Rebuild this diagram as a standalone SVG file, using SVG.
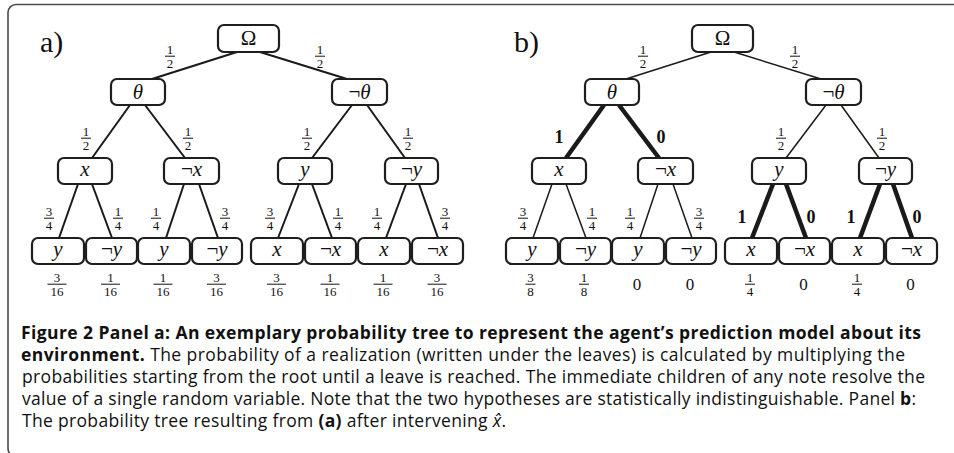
<svg xmlns="http://www.w3.org/2000/svg" width="954" height="453" viewBox="0 0 954 453">
<style>
.frame{fill:none;stroke:#4a4a4a;stroke-width:1.6}
.box{fill:#fff;stroke:#1e1e1e;stroke-width:2.2}
.nt{font-family:"Liberation Serif",serif;font-size:21px;font-style:italic;fill:#111;text-anchor:middle}
.up{font-style:normal}
.e{stroke:#1a1a1a;stroke-width:2;fill:none}
.eb{stroke:#1a1a1a;stroke-width:1.5;fill:none}
.ek{stroke:#1a1a1a;stroke-width:4.5;fill:none}
.fr{font-family:"Liberation Serif",serif;font-size:13px;fill:#111;text-anchor:middle}
.bar{stroke:#111;stroke-width:1}
.zero{font-family:"Liberation Serif",serif;font-size:17px;fill:#111;text-anchor:middle}
.bd{font-family:"Liberation Serif",serif;font-size:18px;font-weight:bold;fill:#111;text-anchor:middle}
.pl{font-family:"Liberation Serif",serif;font-size:30px;fill:#111}
.cap{font-family:"Open Sans","Noto Sans",sans-serif;font-size:17.5px;fill:#111}
.b{font-weight:bold}
</style>
<rect class="frame" x="8" y="4.5" width="990" height="452" rx="8"/>

<!-- ===== Panel a ===== -->
<g id="connectors-a">
<line class="e" x1="237" y1="52" x2="152" y2="79"/>
<line class="e" x1="260" y1="52" x2="347" y2="79"/>
<line class="e" x1="130" y1="105" x2="92" y2="158"/>
<line class="e" x1="145" y1="105" x2="185" y2="158"/>
<line class="e" x1="352" y1="105" x2="312" y2="158"/>
<line class="e" x1="367" y1="105" x2="405" y2="158"/>
<line class="e" x1="78" y1="184" x2="59" y2="238"/>
<line class="e" x1="92" y1="184" x2="112" y2="238"/>
<line class="e" x1="184" y1="184" x2="166" y2="238"/>
<line class="e" x1="199" y1="184" x2="218" y2="238"/>
<line class="e" x1="299" y1="184" x2="278" y2="238"/>
<line class="e" x1="312" y1="184" x2="332" y2="238"/>
<line class="e" x1="406" y1="184" x2="386" y2="238"/>
<line class="e" x1="419" y1="184" x2="438" y2="238"/>
</g>
<text class="pl" x="40" y="52">a)</text>
<g id="a-root"><rect class="box" x="218" y="25" width="61" height="27" rx="6"/><text class="nt up" x="248.5" y="45">Ω</text></g>
<g id="a-theta"><rect class="box" x="111" y="79" width="54" height="26" rx="6"/><text class="nt" x="138" y="98.5">θ</text></g>
<g id="a-ntheta"><rect class="box" x="332" y="79" width="55" height="26" rx="6"/><text class="nt" x="359.5" y="98.5"><tspan class="up">¬</tspan>θ</text></g>
<g id="a-x"><rect class="box" x="58" y="158" width="54" height="26" rx="6"/><text class="nt" x="85" y="176">x</text></g>
<g id="a-nx"><rect class="box" x="164" y="158" width="55" height="26" rx="6"/><text class="nt" x="191.5" y="176"><tspan class="up">¬</tspan>x</text></g>
<g id="a-y"><rect class="box" x="278" y="158" width="54" height="26" rx="6"/><text class="nt" x="305" y="176">y</text></g>
<g id="a-ny"><rect class="box" x="385" y="158" width="53" height="26" rx="6"/><text class="nt" x="411.5" y="176"><tspan class="up">¬</tspan>y</text></g>
<g id="a-l1"><rect class="box" x="32" y="238" width="52" height="26" rx="6"/><text class="nt" x="58" y="256">y</text></g>
<g id="a-l2"><rect class="box" x="86" y="238" width="51" height="26" rx="6"/><text class="nt" x="111.5" y="256"><tspan class="up">¬</tspan>y</text></g>
<g id="a-l3"><rect class="box" x="138" y="238" width="52" height="26" rx="6"/><text class="nt" x="164" y="256">y</text></g>
<g id="a-l4"><rect class="box" x="192" y="238" width="50" height="26" rx="6"/><text class="nt" x="217" y="256"><tspan class="up">¬</tspan>y</text></g>
<g id="a-l5"><rect class="box" x="251" y="238" width="52" height="26" rx="6"/><text class="nt" x="277" y="256">x</text></g>
<g id="a-l6"><rect class="box" x="305" y="238" width="51" height="26" rx="6"/><text class="nt" x="330.5" y="256"><tspan class="up">¬</tspan>x</text></g>
<g id="a-l7"><rect class="box" x="358" y="238" width="52" height="26" rx="6"/><text class="nt" x="384" y="256">x</text></g>
<g id="a-l8"><rect class="box" x="412" y="238" width="51" height="26" rx="6"/><text class="nt" x="437.5" y="256"><tspan class="up">¬</tspan>x</text></g>
<g id="a-labels">
<text class="fr" x="170" y="53.5">1</text><line class="bar" x1="165" y1="56.2" x2="175" y2="56.2"/><text class="fr" x="170" y="68">2</text>
<text class="fr" x="320" y="53.5">1</text><line class="bar" x1="315" y1="56.2" x2="325" y2="56.2"/><text class="fr" x="320" y="68">2</text>
<text class="fr" x="86" y="135.5">1</text><line class="bar" x1="81" y1="138.2" x2="91" y2="138.2"/><text class="fr" x="86" y="150">2</text>
<text class="fr" x="188" y="135.5">1</text><line class="bar" x1="183" y1="138.2" x2="193" y2="138.2"/><text class="fr" x="188" y="150">2</text>
<text class="fr" x="307" y="135.5">1</text><line class="bar" x1="302" y1="138.2" x2="312" y2="138.2"/><text class="fr" x="307" y="150">2</text>
<text class="fr" x="408" y="135.5">1</text><line class="bar" x1="403" y1="138.2" x2="413" y2="138.2"/><text class="fr" x="408" y="150">2</text>
<text class="fr" x="49" y="215.5">3</text><line class="bar" x1="44" y1="218.2" x2="54" y2="218.2"/><text class="fr" x="49" y="230">4</text>
<text class="fr" x="118" y="215.5">1</text><line class="bar" x1="113" y1="218.2" x2="123" y2="218.2"/><text class="fr" x="118" y="230">4</text>
<text class="fr" x="156" y="215.5">1</text><line class="bar" x1="151" y1="218.2" x2="161" y2="218.2"/><text class="fr" x="156" y="230">4</text>
<text class="fr" x="225" y="215.5">3</text><line class="bar" x1="220" y1="218.2" x2="230" y2="218.2"/><text class="fr" x="225" y="230">4</text>
<text class="fr" x="270" y="215.5">3</text><line class="bar" x1="265" y1="218.2" x2="275" y2="218.2"/><text class="fr" x="270" y="230">4</text>
<text class="fr" x="338" y="215.5">1</text><line class="bar" x1="333" y1="218.2" x2="343" y2="218.2"/><text class="fr" x="338" y="230">4</text>
<text class="fr" x="377" y="215.5">1</text><line class="bar" x1="372" y1="218.2" x2="382" y2="218.2"/><text class="fr" x="377" y="230">4</text>
<text class="fr" x="445" y="215.5">3</text><line class="bar" x1="440" y1="218.2" x2="450" y2="218.2"/><text class="fr" x="445" y="230">4</text>
<text class="fr" x="57" y="281.5">3</text><line class="bar" x1="47.5" y1="284.2" x2="66.5" y2="284.2"/><text class="fr" x="57" y="296">16</text>
<text class="fr" x="110.5" y="281.5">1</text><line class="bar" x1="101" y1="284.2" x2="120" y2="284.2"/><text class="fr" x="110.5" y="296">16</text>
<text class="fr" x="163" y="281.5">1</text><line class="bar" x1="153.5" y1="284.2" x2="172.5" y2="284.2"/><text class="fr" x="163" y="296">16</text>
<text class="fr" x="216.5" y="281.5">3</text><line class="bar" x1="207" y1="284.2" x2="226" y2="284.2"/><text class="fr" x="216.5" y="296">16</text>
<text class="fr" x="276.5" y="281.5">3</text><line class="bar" x1="267" y1="284.2" x2="286" y2="284.2"/><text class="fr" x="276.5" y="296">16</text>
<text class="fr" x="330" y="281.5">1</text><line class="bar" x1="320.5" y1="284.2" x2="339.5" y2="284.2"/><text class="fr" x="330" y="296">16</text>
<text class="fr" x="383" y="281.5">1</text><line class="bar" x1="373.5" y1="284.2" x2="392.5" y2="284.2"/><text class="fr" x="383" y="296">16</text>
<text class="fr" x="437" y="281.5">3</text><line class="bar" x1="427.5" y1="284.2" x2="446.5" y2="284.2"/><text class="fr" x="437" y="296">16</text>
</g>

<!-- ===== Panel b ===== -->
<g id="connectors-b">
<line class="eb" x1="711" y1="52" x2="626" y2="79"/>
<line class="eb" x1="734" y1="52" x2="821" y2="79"/>
<line class="ek" x1="604" y1="105" x2="566" y2="158"/>
<line class="ek" x1="619" y1="105" x2="659" y2="158"/>
<line class="eb" x1="826" y1="105" x2="786" y2="158"/>
<line class="eb" x1="841" y1="105" x2="879" y2="158"/>
<line class="eb" x1="552" y1="184" x2="533" y2="238"/>
<line class="eb" x1="566" y1="184" x2="586" y2="238"/>
<line class="eb" x1="658" y1="184" x2="640" y2="238"/>
<line class="eb" x1="673" y1="184" x2="692" y2="238"/>
<line class="ek" x1="773" y1="184" x2="752" y2="238"/>
<line class="ek" x1="786" y1="184" x2="806" y2="238"/>
<line class="ek" x1="880" y1="184" x2="860" y2="238"/>
<line class="ek" x1="893" y1="184" x2="912" y2="238"/>
</g>
<text class="pl" x="514" y="52">b)</text>
<g id="b-root"><rect class="box" x="692" y="25" width="61" height="27" rx="6"/><text class="nt up" x="722.5" y="45">Ω</text></g>
<g id="b-theta"><rect class="box" x="585" y="79" width="54" height="26" rx="6"/><text class="nt" x="612" y="98.5">θ</text></g>
<g id="b-ntheta"><rect class="box" x="806" y="79" width="55" height="26" rx="6"/><text class="nt" x="833.5" y="98.5"><tspan class="up">¬</tspan>θ</text></g>
<g id="b-x"><rect class="box" x="532" y="158" width="54" height="26" rx="6"/><text class="nt" x="559" y="176">x</text></g>
<g id="b-nx"><rect class="box" x="638" y="158" width="55" height="26" rx="6"/><text class="nt" x="665.5" y="176"><tspan class="up">¬</tspan>x</text></g>
<g id="b-y"><rect class="box" x="752" y="158" width="54" height="26" rx="6"/><text class="nt" x="779" y="176">y</text></g>
<g id="b-ny"><rect class="box" x="859" y="158" width="53" height="26" rx="6"/><text class="nt" x="885.5" y="176"><tspan class="up">¬</tspan>y</text></g>
<g id="b-l1"><rect class="box" x="506" y="238" width="52" height="26" rx="6"/><text class="nt" x="532" y="256">y</text></g>
<g id="b-l2"><rect class="box" x="560" y="238" width="51" height="26" rx="6"/><text class="nt" x="585.5" y="256"><tspan class="up">¬</tspan>y</text></g>
<g id="b-l3"><rect class="box" x="612" y="238" width="52" height="26" rx="6"/><text class="nt" x="638" y="256">y</text></g>
<g id="b-l4"><rect class="box" x="666" y="238" width="50" height="26" rx="6"/><text class="nt" x="691" y="256"><tspan class="up">¬</tspan>y</text></g>
<g id="b-l5"><rect class="box" x="725" y="238" width="52" height="26" rx="6"/><text class="nt" x="751" y="256">x</text></g>
<g id="b-l6"><rect class="box" x="779" y="238" width="51" height="26" rx="6"/><text class="nt" x="804.5" y="256"><tspan class="up">¬</tspan>x</text></g>
<g id="b-l7"><rect class="box" x="832" y="238" width="52" height="26" rx="6"/><text class="nt" x="858" y="256">x</text></g>
<g id="b-l8"><rect class="box" x="886" y="238" width="51" height="26" rx="6"/><text class="nt" x="911.5" y="256"><tspan class="up">¬</tspan>x</text></g>
<g id="b-labels">
<text class="fr" x="643" y="53.5">1</text><line class="bar" x1="638" y1="56.2" x2="648" y2="56.2"/><text class="fr" x="643" y="68">2</text>
<text class="fr" x="795" y="53.5">1</text><line class="bar" x1="790" y1="56.2" x2="800" y2="56.2"/><text class="fr" x="795" y="68">2</text>
<text class="bd" x="559" y="143">1</text>
<text class="bd" x="661" y="143">0</text>
<text class="fr" x="781" y="135.5">1</text><line class="bar" x1="776" y1="138.2" x2="786" y2="138.2"/><text class="fr" x="781" y="150">2</text>
<text class="fr" x="882" y="135.5">1</text><line class="bar" x1="877" y1="138.2" x2="887" y2="138.2"/><text class="fr" x="882" y="150">2</text>
<text class="fr" x="523" y="215.5">3</text><line class="bar" x1="518" y1="218.2" x2="528" y2="218.2"/><text class="fr" x="523" y="230">4</text>
<text class="fr" x="592" y="215.5">1</text><line class="bar" x1="587" y1="218.2" x2="597" y2="218.2"/><text class="fr" x="592" y="230">4</text>
<text class="fr" x="630" y="215.5">1</text><line class="bar" x1="625" y1="218.2" x2="635" y2="218.2"/><text class="fr" x="630" y="230">4</text>
<text class="fr" x="699" y="215.5">3</text><line class="bar" x1="694" y1="218.2" x2="704" y2="218.2"/><text class="fr" x="699" y="230">4</text>
<text class="bd" x="742" y="223">1</text>
<text class="bd" x="811" y="223">0</text>
<text class="bd" x="851" y="223">1</text>
<text class="bd" x="917" y="223">0</text>
<text class="fr" x="530.5" y="281.5">3</text><line class="bar" x1="525.5" y1="284.2" x2="535.5" y2="284.2"/><text class="fr" x="530.5" y="296">8</text>
<text class="fr" x="584" y="281.5">1</text><line class="bar" x1="579" y1="284.2" x2="589" y2="284.2"/><text class="fr" x="584" y="296">8</text>
<text class="zero" x="637" y="290">0</text>
<text class="zero" x="690" y="290">0</text>
<text class="fr" x="750" y="281.5">1</text><line class="bar" x1="745" y1="284.2" x2="755" y2="284.2"/><text class="fr" x="750" y="296">4</text>
<text class="zero" x="803.5" y="290">0</text>
<text class="fr" x="857" y="281.5">1</text><line class="bar" x1="852" y1="284.2" x2="862" y2="284.2"/><text class="fr" x="857" y="296">4</text>
<text class="zero" x="910.5" y="290">0</text>
</g>

<!-- ===== Caption ===== -->
<g id="caption">
<text class="cap b" x="21" y="339" textLength="900" lengthAdjust="spacing">Figure 2 Panel a: An exemplary probability tree to represent the agent’s prediction model about its</text>
<text class="cap" x="21" y="361" textLength="884" lengthAdjust="spacing"><tspan class="b">environment.</tspan> The probability of a realization (written under the leaves) is calculated by multiplying the</text>
<text class="cap" x="22" y="383" textLength="903" lengthAdjust="spacing">probabilities starting from the root until a leave is reached. The immediate children of any note resolve the</text>
<text class="cap" x="22" y="405" textLength="894" lengthAdjust="spacing">value of a single random variable. Note that the two hypotheses are statistically indistinguishable. Panel <tspan class="b">b</tspan>:</text>
<text class="cap" x="22" y="427" textLength="484" lengthAdjust="spacing">The probability tree resulting from <tspan class="b">(a)</tspan> after intervening <tspan font-style="italic">x̂</tspan>.</text>
</g>
</svg>
